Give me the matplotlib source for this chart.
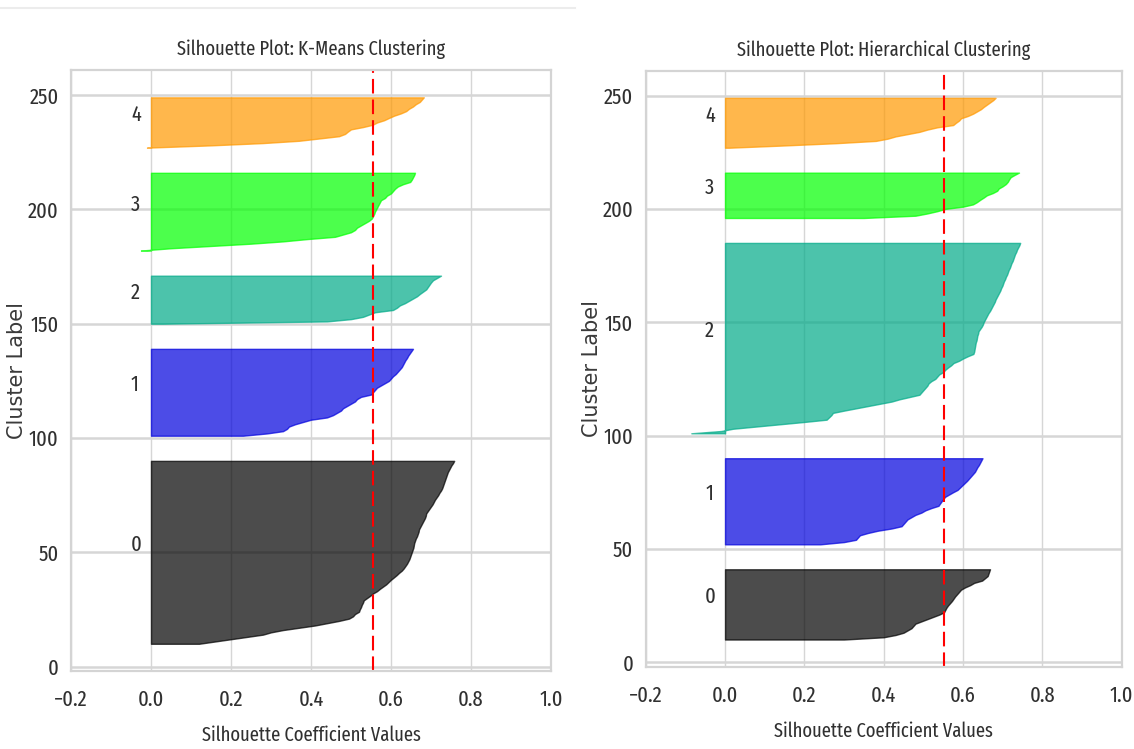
import numpy as np
import matplotlib
matplotlib.use("Agg")
import matplotlib.pyplot as plt
from matplotlib import cm

# sorted silhouette values of each cluster
km_sil_0 = [0.12, 0.16, 0.20, 0.24, 0.28, 0.30, 0.33, 0.37, 0.41, 0.44,
            0.47, 0.495, 0.505, 0.51, 0.52, 0.522, 0.525, 0.527, 0.53, 0.532,
            0.54, 0.548, 0.555, 0.565, 0.572, 0.58, 0.588, 0.594, 0.60, 0.607,
            0.614, 0.62, 0.627, 0.632, 0.636, 0.64, 0.643, 0.646, 0.648, 0.65,
            0.652, 0.654, 0.656, 0.657, 0.658, 0.66, 0.662, 0.665, 0.667, 0.669,
            0.67, 0.673, 0.676, 0.679, 0.682, 0.685, 0.687, 0.688, 0.692, 0.696,
            0.70, 0.704, 0.707, 0.71, 0.714, 0.718, 0.721, 0.725, 0.728, 0.73,
            0.732, 0.734, 0.736, 0.738, 0.74, 0.742, 0.745, 0.748, 0.751, 0.755,
            0.758]
km_sil_1 = [0.23, 0.29, 0.33, 0.34, 0.345, 0.36, 0.38, 0.40, 0.44, 0.455,
            0.465, 0.475, 0.48, 0.49, 0.50, 0.51, 0.515, 0.525, 0.55, 0.555,
            0.56, 0.565, 0.575, 0.585, 0.595, 0.60, 0.605, 0.612, 0.617, 0.622,
            0.627, 0.63, 0.633, 0.636, 0.64, 0.643, 0.647, 0.651, 0.655]
km_sil_2 = [0.03, 0.44, 0.50, 0.53, 0.545, 0.56, 0.605, 0.615, 0.622, 0.635,
            0.645, 0.655, 0.665, 0.672, 0.68, 0.688, 0.692, 0.696, 0.70, 0.705,
            0.715, 0.725]
km_sil_3 = [-0.025, 0.05, 0.15, 0.25, 0.33, 0.39, 0.46, 0.48, 0.50, 0.51,
            0.515, 0.525, 0.535, 0.545, 0.552, 0.555, 0.558, 0.56, 0.563, 0.566,
            0.569, 0.572, 0.575, 0.585, 0.59, 0.60, 0.605, 0.61, 0.617, 0.63,
            0.648, 0.652, 0.655, 0.658, 0.66]
km_sil_4 = [-0.01, 0.15, 0.28, 0.37, 0.42, 0.47, 0.485, 0.492, 0.50, 0.53,
            0.554, 0.565, 0.583, 0.595, 0.608, 0.625, 0.638, 0.645, 0.655, 0.662,
            0.672, 0.677, 0.682]

hc_sil_0 = [0.30, 0.40, 0.43, 0.45, 0.46, 0.47, 0.475, 0.48, 0.495, 0.51,
            0.525, 0.54, 0.552, 0.555, 0.558, 0.562, 0.567, 0.572, 0.576, 0.58,
            0.585, 0.59, 0.595, 0.605, 0.618, 0.628, 0.648, 0.655, 0.662, 0.664,
            0.666, 0.668]
hc_sil_1 = [0.24, 0.30, 0.33, 0.335, 0.34, 0.36, 0.385, 0.42, 0.445, 0.45,
            0.455, 0.46, 0.47, 0.48, 0.495, 0.505, 0.52, 0.538, 0.542, 0.546,
            0.55, 0.555, 0.565, 0.575, 0.586, 0.592, 0.598, 0.604, 0.61, 0.615,
            0.62, 0.625, 0.63, 0.633, 0.636, 0.64, 0.643, 0.646, 0.649]
hc_sil_2 = [-0.085, -0.01, 0.02, 0.08, 0.14, 0.20, 0.256, 0.262, 0.268, 0.272,
            0.30, 0.33, 0.36, 0.39, 0.42, 0.44, 0.465, 0.49, 0.495, 0.50,
            0.505, 0.51, 0.513, 0.52, 0.53, 0.535, 0.54, 0.55, 0.555, 0.562,
            0.57, 0.576, 0.59, 0.60, 0.612, 0.626, 0.628, 0.629, 0.63, 0.631,
            0.632, 0.634, 0.635, 0.636, 0.638, 0.639, 0.643, 0.647, 0.65, 0.652,
            0.655, 0.658, 0.661, 0.664, 0.668, 0.671, 0.674, 0.677, 0.68, 0.682,
            0.685, 0.688, 0.691, 0.694, 0.696, 0.699, 0.701, 0.703, 0.706, 0.708,
            0.711, 0.713, 0.715, 0.718, 0.72, 0.722, 0.725, 0.727, 0.729, 0.731,
            0.734, 0.736, 0.739, 0.742, 0.744]
hc_sil_3 = [0.35, 0.48, 0.51, 0.535, 0.555, 0.60, 0.625, 0.635, 0.643, 0.652,
            0.66, 0.675, 0.686, 0.69, 0.70, 0.708, 0.713, 0.716, 0.72, 0.73,
            0.741]
hc_sil_4 = [0.01, 0.15, 0.28, 0.38, 0.41, 0.43, 0.46, 0.49, 0.51, 0.535,
            0.575, 0.582, 0.59, 0.595, 0.612, 0.625, 0.635, 0.645, 0.652, 0.66,
            0.668, 0.676, 0.682]

km_avg = 0.554
hc_avg = 0.553

plt.rcParams["font.family"] = ["Fira Sans Extra Condensed", "DejaVu Sans"]
plt.rcParams["axes.edgecolor"] = "#d4d4d4"
plt.rcParams["axes.linewidth"] = 1.6
plt.rcParams["grid.color"] = "#d6d6d6"

TXT = "#303030"


def silhouette_panel(ax, clusters, avg, title):
    y_lower = 10
    for i, vals in enumerate(clusters):
        size = len(vals)
        y_upper = y_lower + size
        color = cm.nipy_spectral(float(i) / len(clusters))
        ax.fill_betweenx(np.arange(y_lower, y_upper), 0, vals,
                         facecolor=color, edgecolor=color, alpha=0.7)
        ax.text(-0.05, y_lower + 0.5 * size, str(i), fontsize=16, color=TXT)
        y_lower = y_upper + 10
    ax.axvline(x=avg, color="red", linestyle="--", lw=1.5, dashes=(7, 2.9))
    ax.set_xlim([-0.2, 1])
    ax.set_xticks([-0.2, 0, 0.2, 0.4, 0.6, 0.8, 1.0])
    ax.set_title(title, fontsize=14.5, color=TXT, pad=11)
    ax.set_xlabel("Silhouette Coefficient Values", fontsize=14.5, color=TXT, labelpad=11)
    ax.set_ylabel("Cluster Label", fontsize=15, color="#3a3a3a", family="DejaVu Sans", va="center")
    ax.yaxis.set_label_coords(-0.112, 0.5)
    ax.set_axisbelow(True)
    ax.grid(True, axis="x", lw=1.0)
    ax.grid(True, axis="y", lw=1.8)
    ax.tick_params(length=0, labelsize=16, labelcolor=TXT)
    ax.tick_params(axis="x", pad=13)
    ax.tick_params(axis="y", pad=9)


fig = plt.figure(figsize=(11.34, 7.49), dpi=100)
ax1 = fig.add_axes([0.0626, 0.104, 0.4233, 0.8025])
ax2 = fig.add_axes([0.5694, 0.110, 0.4198, 0.7955])

silhouette_panel(ax1, [km_sil_0, km_sil_1, km_sil_2, km_sil_3, km_sil_4],
                 km_avg, "Silhouette Plot: K-Means Clustering")
silhouette_panel(ax2, [hc_sil_0, hc_sil_1, hc_sil_2, hc_sil_3, hc_sil_4],
                 hc_avg, "Silhouette Plot: Hierarchical Clustering")

# thin grey strip left over at the top of the screenshot
fig.add_artist(plt.Line2D([0, 0.507], [0.989, 0.989], color="#ececec", lw=1.5))

fig.savefig("out.png", dpi=100)
